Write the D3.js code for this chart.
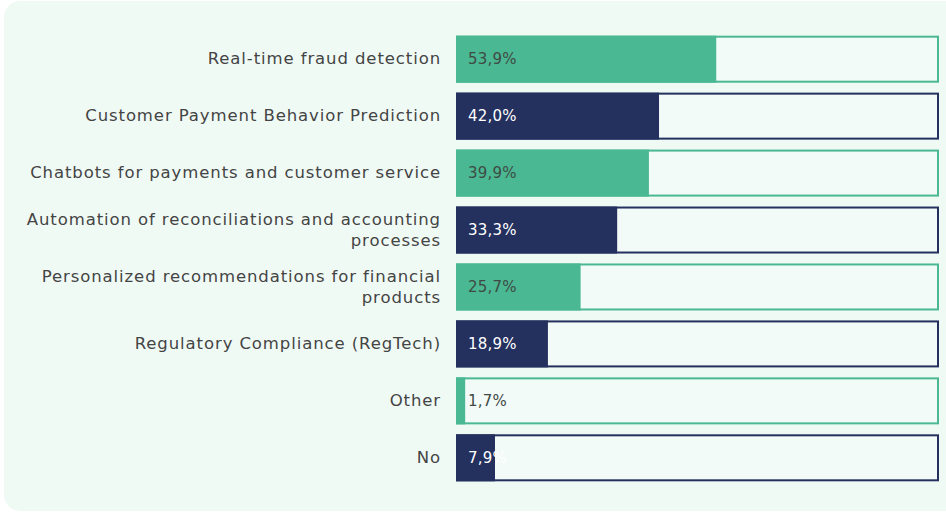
<!DOCTYPE html>
<html><head><meta charset="utf-8">
<script src="https://cdn.jsdelivr.net/npm/d3@7"></script>
<style>html,body{margin:0;padding:0;background:#fff;}svg{display:block;}</style>
</head><body>
<svg id="c" width="946" height="513"></svg>
<script>
const categories = [
  ["Real-time fraud detection"],
  ["Customer Payment Behavior Prediction"],
  ["Chatbots for payments and customer service"],
  ["Automation of reconciliations and accounting", "processes"],
  ["Personalized recommendations for financial", "products"],
  ["Regulatory Compliance (RegTech)"],
  ["Other"],
  ["No"]
];
const values = [53.9, 42.0, 39.9, 33.3, 25.7, 18.9, 1.7, 7.9];
const palette = ["#4ab892", "#24305e"];

const svg = d3.select("#c");
svg.append("rect").attr("x", 4).attr("y", 1).attr("width", 980).attr("height", 510)
  .attr("rx", 16).attr("fill", "#f0faf5");

const x = d3.scaleLinear().domain([0, 100]).range([457, 938]);
const y = d3.scaleBand().domain(d3.range(values.length)).range([31, 486]).paddingInner(0.21).paddingOuter(0.1);

const g = svg.append("g");
const rows = g.selectAll("g.row").data(values).join("g").attr("class", "row");

rows.append("rect")
  .attr("x", x(0)).attr("y", (d, i) => y(i))
  .attr("width", x(100) - x(0)).attr("height", y.bandwidth())
  .attr("fill", "#f3fbf8");
rows.append("rect")
  .attr("x", x(0)).attr("y", (d, i) => y(i))
  .attr("width", x(100) - x(0)).attr("height", y.bandwidth())
  .attr("fill", "none").attr("stroke", (d, i) => palette[i % 2]).attr("stroke-width", 2);
rows.append("rect")
  .attr("x", x(0) - 1).attr("y", (d, i) => y(i) - 1)
  .attr("width", d => x(d) - x(0) + 1).attr("height", y.bandwidth() + 2)
  .attr("fill", (d, i) => palette[i % 2]);

rows.append("text")
  .attr("x", x(0) + 11).attr("y", (d, i) => y(i) + y.bandwidth() / 2)
  .attr("dy", "0.35em")
  .attr("font-family", "'DejaVu Sans', sans-serif").attr("font-size", 15)
  .attr("letter-spacing", 0.2)
  .attr("fill", (d, i) => i % 2 ? "#ffffff" : "#3f4a45")
  .text(d => d.toFixed(1).replace(".", ",") + "%");

const labels = g.selectAll("text.cat").data(categories).join("text").attr("class", "cat")
  .attr("text-anchor", "end")
  .attr("font-family", "'DejaVu Sans', sans-serif").attr("font-size", 16.5)
  .attr("letter-spacing", 0.9)
  .attr("fill", "#444444");
labels.each(function(lines, i) {
  const t = d3.select(this);
  const cy = y(i) + y.bandwidth() / 2;
  const lh = 21;
  const start = cy - (lines.length - 1) * lh / 2;
  lines.forEach((ln, k) => {
    t.append("tspan").attr("x", 441).attr("y", start + k * lh - 0.5).attr("dy", "0.35em").text(ln);
  });
});
</script>
</body></html>
